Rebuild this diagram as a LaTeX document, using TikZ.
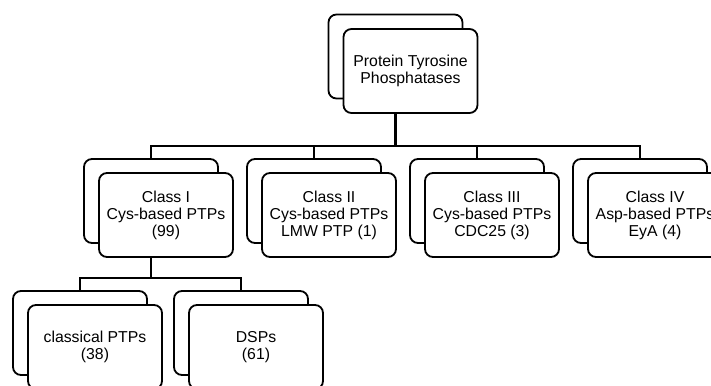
\documentclass[tikz,border=0pt]{standalone}
\usepackage{fontspec}
\setmainfont{Liberation Sans}
\usetikzlibrary{backgrounds}
\tikzset{
  box/.style={draw=black, fill=white, line width=1.8pt, rounded corners=8pt,
    minimum width=134pt, minimum height=84pt, inner sep=0pt, align=center,
    font=\fontsize{15.8}{17}\selectfont},
  conn/.style={draw=black, line width=2.2pt}
}
\begin{document}
\begin{tikzpicture}[x=1pt,y=-1pt]
\clip (0,0) rectangle (711,385);
% root
\node[box] (rootb) at (395.5,56.5) {};
\node[box] (root) at (410.5,71) {Protein Tyrosine\\Phosphatases};
% level 2
\node[box] (c1b) at (151,201) {};
\node[box] (c1) at (166,215) {Class I\\Cys-based PTPs\\(99)};
\node[box] (c2b) at (314,201) {};
\node[box] (c2) at (329,215) {Class II\\Cys-based PTPs\\LMW PTP (1)};
\node[box] (c3b) at (477,201) {};
\node[box] (c3) at (492,215) {Class III\\Cys-based PTPs\\CDC25 (3)};
\node[box] (c4b) at (640,201) {};
\node[box] (c4) at (655,215) {Class IV\\Asp-based PTPs\\EyA (4)};
% level 3
\node[box] (d1b) at (80,333) {};
\node[box] (d1) at (95,347) {classical PTPs\\(38)};
\node[box] (d2b) at (241,333) {};
\node[box] (d2) at (256,347) {DSPs\\(61)};
\coordinate (bus1) at (395.5,146);
\coordinate (bus2) at (151,278);
\begin{scope}[on background layer]
  \draw[conn] (rootb.south) -- (bus1);
  \draw[conn] (c1b.north) -- (c1b.north |- bus1) -- (c4b.north |- bus1) -- (c4b.north);
  \draw[conn] (c2b.north) -- (c2b.north |- bus1);
  \draw[conn] (c3b.north) -- (c3b.north |- bus1);
  \draw[conn] (c1b.south) -- (bus2);
  \draw[conn] (d1b.north) -- (d1b.north |- bus2) -- (d2b.north |- bus2) -- (d2b.north);
\end{scope}
\end{tikzpicture}
\end{document}
